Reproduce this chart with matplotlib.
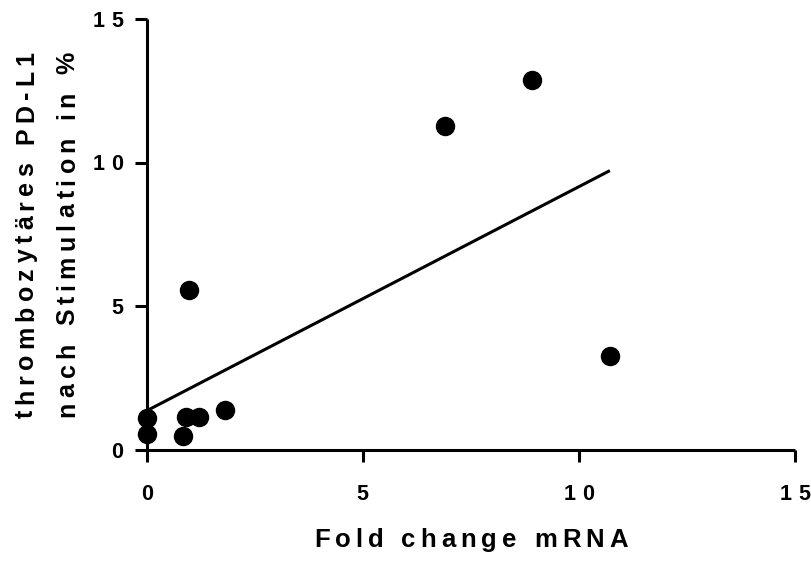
import numpy as np
import matplotlib.pyplot as plt
from matplotlib.font_manager import FontProperties, findfont
from matplotlib.ft2font import FT2Font

plt.rcParams['font.family'] = ['Liberation Sans', 'DejaVu Sans']
plt.rcParams['font.weight'] = 'bold'

# Messwerte
fold_change = [0.0, 0.0, 0.84, 0.91, 1.21, 1.81, 0.98, 6.91, 8.91, 10.72]
pdl1_percent = [1.11, 0.56, 0.49, 1.15, 1.15, 1.39, 5.56, 11.28, 12.88, 3.26]
ticks = [0, 5, 10, 15]

x = np.array(fold_change)
y = np.array(pdl1_percent)

# Lineare Regression
slope, intercept = np.polyfit(x, y, 1)
x_fit = np.array([x.min(), x.max()])
y_fit = slope * x_fit + intercept

_font = FT2Font(findfont(FontProperties(family='Liberation Sans', weight='bold')))


def spaced_text(ax, s, xy, coords, size, track, rotation=0, ha='center',
                dx=0.0, dy=0.0):
    """Text mit Zeichenabstand (track in pt), Buchstabe fuer Buchstabe."""
    _font.set_size(size, 72)
    adv = [_font.load_char(ord(c)).linearHoriAdvance / 65536 for c in s]
    total = sum(adv) + track * (len(s) - 1)
    pos = {'center': -total / 2, 'right': -total, 'left': 0.0}[ha]
    for c, a in zip(s, adv):
        off = (dx + pos, dy) if rotation == 0 else (dx, dy + pos)
        ax.annotate(c, xy=xy, xycoords=coords, xytext=off,
                    textcoords='offset points', rotation=rotation,
                    rotation_mode='anchor', ha='left', va='baseline',
                    fontsize=size, fontweight='bold', annotation_clip=False)
        pos += a + track


fig = plt.figure(figsize=(8.11, 5.61), dpi=100)
ax = fig.add_axes([0.181, 0.198, 0.799, 0.768])

ax.plot(x_fit, y_fit, color='black', lw=2.2, solid_capstyle='butt', zorder=2)
ax.plot(x, y, 'o', color='black', markersize=13, clip_on=False, zorder=3)

ax.set_xlim(0, 15)
ax.set_ylim(0, 15)
ax.set_xticks(ticks)
ax.set_yticks(ticks)

for side in ['top', 'right']:
    ax.spines[side].set_visible(False)
for side in ['left', 'bottom']:
    ax.spines[side].set_linewidth(2.2)
    ax.spines[side].set_capstyle('butt')

ax.tick_params(axis='both', width=2.2, length=8.5,
               labelbottom=False, labelleft=False)

# Achsenbeschriftung mit weitem Zeichenabstand
tick_size = 15.5
for t in ticks:
    spaced_text(ax, str(t), (t, 0), ax.get_xaxis_transform(), tick_size, 4.7,
                dy=-36)
    spaced_text(ax, str(t), (0, t), ax.get_yaxis_transform(), tick_size, 4.7,
                ha='right', dx=-17, dy=-0.358 * tick_size)

spaced_text(ax, 'Fold change mRNA', (0.5, 0), 'axes fraction', 18.5, 3.7,
            dy=-70)
spaced_text(ax, 'thrombozytäres PD-L1', (0, 0.5), 'axes fraction', 18, 3.8,
            rotation=90, dx=-82)
spaced_text(ax, 'nach Stimulation in %', (0, 0.5), 'axes fraction', 18, 3.8,
            rotation=90, dx=-52)

fig.savefig('out.png', dpi=100)
